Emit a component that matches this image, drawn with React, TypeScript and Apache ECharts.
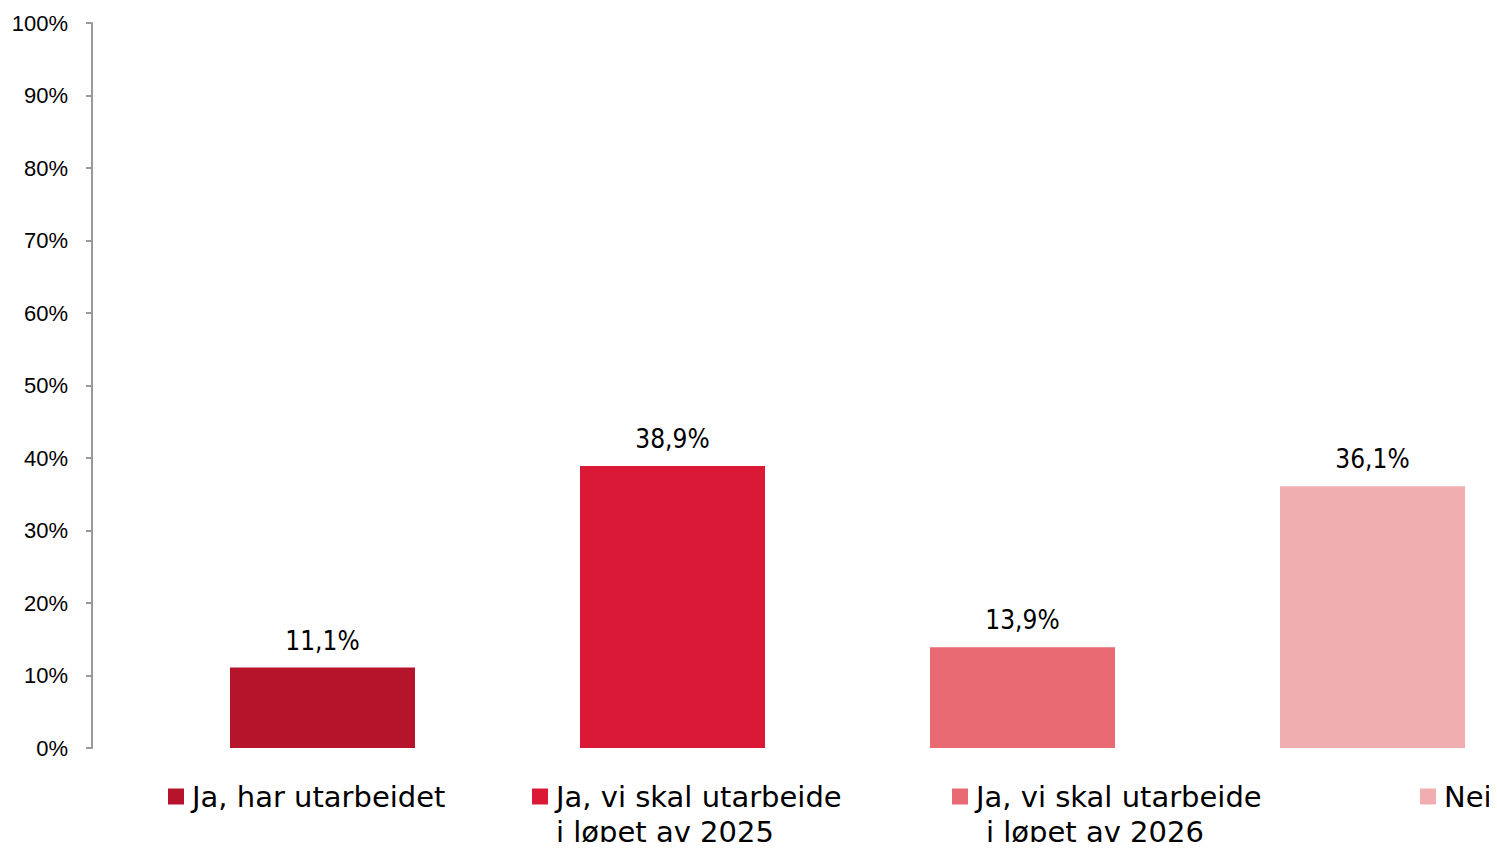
import React, { useEffect, useRef } from "react";
import * as echarts from "echarts";

const seriesNames = [
  "Ja, har utarbeidet",
  "Ja, vi skal utarbeide i løpet av 2025",
  "Ja, vi skal utarbeide i løpet av 2026",
  "Nei",
];
const legendFirstLines = [
  "Ja, har utarbeidet",
  "Ja, vi skal utarbeide",
  "Ja, vi skal utarbeide",
  "Nei",
];
const legendSecondLines = ["", "i løpet av 2025", "i løpet av 2026", ""];
const values = [11.1, 38.9, 13.9, 36.1];
const colors = ["#B5142B", "#DA1937", "#E96A73", "#F0AEB0"];
const categories = [""];

const legendLeft = [168, 532, 952, 1420];
const secondLineX = [0, 556, 986, 0];

const FONT = "'DejaVu Sans', sans-serif";
const LABEL_FONT = "'DejaVu Sans Condensed', 'DejaVu Sans', sans-serif";

export default function App() {
  const ref = useRef<HTMLDivElement>(null);
  useEffect(() => {
    if (!ref.current) return;
    const chart = echarts.init(ref.current, null, { renderer: "svg" });
    const option: any = {
      animation: false,
      grid: { left: 92, top: 23, height: 725, width: 1511, outerBoundsMode: "none", containLabel: false },
      xAxis: {
        type: "category",
        data: categories,
        axisLine: { show: false },
        axisTick: { show: false },
        axisLabel: { show: false },
      },
      yAxis: {
        type: "value",
        min: 0,
        max: 100,
        interval: 10,
        axisLine: { show: true, lineStyle: { color: "#999999", width: 2 } },
        axisTick: { show: true, length: 6, lineStyle: { color: "#999999", width: 2 } },
        splitLine: { show: false },
        axisLabel: {
          formatter: "{value}%",
          color: "#000",
          fontSize: 22,
          fontFamily: "'Liberation Sans', Arial, sans-serif",
          margin: 24,
        },
      },
      legend: seriesNames.map((n, i) => ({
        data: [n],
        left: legendLeft[i],
        top: 782,
        padding: 0,
        itemWidth: 16,
        itemHeight: 16,
        icon: "rect",
        selectedMode: false,
        formatter: () => legendFirstLines[i],
        textStyle: {
          fontSize: 29,
          fontFamily: FONT,
          color: "#000",
          padding: [0, 0, 0, 3],
        },
      })),
      graphic: legendSecondLines
        .map((t, i) =>
          t
            ? {
                type: "text",
                left: secondLineX[i],
                top: 817,
                style: { text: t, fontSize: 29, fontFamily: FONT, fill: "#000" },
              }
            : null
        )
        .filter(Boolean),
      series: seriesNames.map((n, i) => ({
        type: "bar",
        name: n,
        data: [values[i]],
        barWidth: 185,
        barGap: "89.19%",
        itemStyle: { color: colors[i] },
        label: {
          show: true,
          position: "top",
          distance: 14,
          formatter: (p: any) => String(p.value.toFixed(1)).replace(".", ",") + "%",
          fontSize: 26,
          fontFamily: LABEL_FONT,
          color: "#000",
        },
      })),
    };
    chart.setOption(option);
    return () => chart.dispose();
  }, []);
  return <div ref={ref} style={{ width: 1497, height: 850, margin: -8 }} />;
}
